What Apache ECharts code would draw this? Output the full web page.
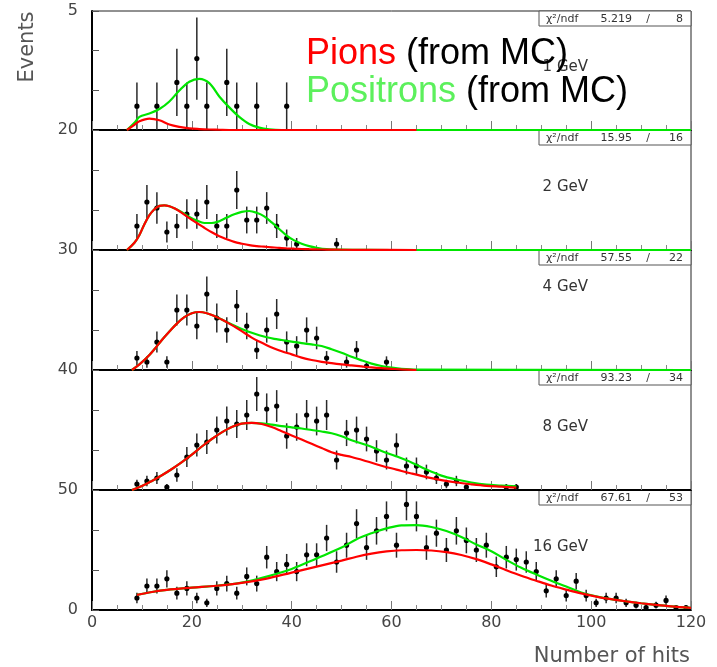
<!DOCTYPE html>
<html>
<head>
<meta charset="utf-8">
<title>Number of hits per beam energy</title>
<script src="https://cdn.jsdelivr.net/npm/echarts@6/dist/echarts.min.js"></script>
<style>
  html, body { margin: 0; padding: 0; background: #fff; }
  #chart { width: 717px; height: 667px; }
</style>
</head>
<body>
<div id="chart"></div>
<script>
// ---- Data: hit-count histograms (bin centres, entries) and fitted MC shapes ----

// 1 GeV
const hits1 = [9, 13, 17, 19, 21, 23, 27, 29, 33, 39];
const counts1 = [1, 1, 2, 1, 3, 1, 2, 1, 1, 1];
const curveX1 = [7, 8.5, 9.5, 11.5, 13.5, 15.5, 17.5, 19.5, 21.5, 23.5, 25.5, 27.5, 29.5, 31.5, 33.5, 35.5, 38, 65, 120];
const pion1 = [0, 0.22, 0.37, 0.48, 0.41, 0.23, 0.13, 0.07, 0.04, 0.02, 0.01, 0, 0, 0, 0, 0, 0, 0, null];
const positron1 = [0, 0.3, 0.55, 0.69, 0.88, 1.2, 1.66, 2.03, 2.15, 1.97, 1.41, 0.95, 0.55, 0.25, 0.1, 0.03, 0, 0, 0];

// 2 GeV
const hits2 = [9, 11, 13, 15, 17, 19, 21, 23, 25, 27, 29, 31, 33, 35, 37, 39, 41, 49];
const counts2 = [4, 8, 7, 3, 4, 6, 6, 8, 4, 4, 10, 5, 5, 7, 4, 2, 1, 1];
const curveX2 = [7, 8.5, 9.5, 10.5, 11.5, 12.5, 13.5, 14.5, 15.5, 16.5, 18, 19.5, 21, 22.5, 24, 25.5, 27, 28.5, 30, 31.5, 33, 34.5, 36, 37.5, 39, 40.5, 42, 43.5, 45, 47, 50, 55, 65, 120];
const pion2 = [0, 1.2, 2.5, 4.3, 5.8, 6.8, 7.35, 7.45, 7.3, 6.95, 6.2, 5.3, 4.5, 3.7, 2.95, 2.3, 1.8, 1.35, 1.05, 0.8, 0.65, 0.55, 0.45, 0.35, 0.28, 0.22, 0.17, 0.13, 0.1, 0.07, 0.04, 0.02, 0, null];
const positron2 = [0, 1.2, 2.5, 4.3, 5.8, 6.8, 7.35, 7.45, 7.3, 6.95, 6.3, 5.5, 4.9, 4.5, 4.5, 4.8, 5.4, 5.95, 6.35, 6.5, 6.2, 5.6, 4.6, 3.5, 2.4, 1.6, 1.05, 0.65, 0.38, 0.15, 0.05, 0.01, 0, 0];

// 4 GeV
const hits3 = [9, 11, 13, 15, 17, 19, 21, 23, 25, 27, 29, 31, 33, 35, 37, 39, 41, 43, 45, 47, 51, 53, 55, 59];
const counts3 = [3, 2, 7, 2, 15, 15, 11, 19, 13, 10, 16, 11, 5, 10, 14, 7, 6, 10, 8, 3, 2, 5, 1, 2];
const curveX3 = [8, 9.5, 11, 12.5, 14, 15.5, 17, 18.5, 20, 21.5, 23, 24.5, 26, 27.5, 29, 30.5, 32, 33.5, 35, 36.5, 38, 40, 42, 44, 46, 48, 50, 52, 54, 56, 58, 60, 62, 65, 120];
const pion3 = [0, 1.4, 3.1, 5.2, 7.5, 9.6, 11.6, 13.2, 14.2, 14.5, 14.2, 13.5, 12.6, 11.6, 10.5, 9.3, 8.1, 7.1, 6.2, 5.4, 4.7, 3.9, 3.1, 2.5, 2.05, 1.7, 1.4, 1.15, 0.9, 0.65, 0.45, 0.3, 0.15, 0, null];
const positron3 = [0, 1.4, 3.1, 5.2, 7.5, 9.6, 11.6, 13.2, 14.2, 14.5, 14.2, 13.5, 12.6, 11.7, 10.8, 10.0, 9.3, 8.7, 8.2, 7.8, 7.5, 7.1, 6.7, 6.4, 6.0, 5.2, 4.3, 3.3, 2.4, 1.6, 1.0, 0.6, 0.3, 0.1, 0];

// 8 GeV
const hits4 = [9, 11, 13, 15, 17, 19, 21, 23, 25, 27, 29, 31, 33, 35, 37, 39, 41, 43, 45, 47, 49, 51, 53, 55, 57, 59, 61, 63, 65, 67, 69, 71, 73, 75, 83, 85];
const counts4 = [2, 3, 4, 1, 5, 11, 15, 16, 20, 23, 22, 25, 32, 27, 28, 18, 21, 25, 23, 25, 10, 19, 20, 17, 13, 10, 15, 8, 8, 6, 4, 2, 3, 1, 1, 1];
const curveX4 = [8, 10, 12, 14, 16, 18, 20, 22, 24, 26, 28, 30, 32, 34, 36, 38, 40, 42, 44, 46, 48, 50, 52, 55, 58, 61, 64, 67, 70, 73, 76, 79, 82, 85];
const pion4 = [0, 1.3, 3.0, 4.9, 7.0, 9.3, 11.8, 14.5, 17.0, 19.2, 21.0, 22.1, 22.4, 22.0, 21.0, 19.6, 18.2, 16.8, 15.4, 14.0, 12.6, 11.7, 11.0, 9.6, 8.1, 6.8, 5.5, 4.3, 3.3, 2.5, 1.9, 1.4, 1.1, 0.8];
const positron4 = [0, 1.3, 3.0, 4.9, 7.0, 9.3, 11.8, 14.5, 17.0, 19.2, 21.0, 22.1, 22.4, 22.2, 21.8, 21.3, 20.9, 20.5, 20.0, 19.5, 18.9, 17.9, 16.6, 15.0, 13.0, 11.2, 9.2, 6.8, 4.8, 3.5, 2.5, 1.8, 1.5, 1.2];

// 16 GeV
const hits5 = [9, 11, 13, 15, 17, 19, 21, 23, 25, 27, 29, 31, 33, 35, 37, 39, 41, 43, 45, 47, 49, 51, 53, 55, 57, 59, 61, 63, 65, 67, 69, 71, 73, 75, 77, 79, 81, 83, 85, 87, 89, 91, 93, 95, 97, 99, 101, 103, 105, 107, 109, 111, 113, 115, 117, 119];
const counts5 = [5, 10, 10, 13, 7, 9, 5, 3, 9, 11, 7, 14, 11, 22, 16, 19, 16, 23, 23, 30, 20, 27, 36, 26, 33, 39, 27, 44, 39, 26, 32, 25, 33, 29, 25, 27, 18, 22, 21, 20, 16, 8, 13, 6, 12, 6, 3, 5, 5, 3, 2, 1, 2, 4, 1, 1];
const curveX5 = [9, 12, 15, 20, 25, 30, 35, 40, 45, 50, 53, 56, 59, 62, 65, 68, 71, 74, 77, 80, 83, 86, 89, 92, 95, 98, 101, 104, 107, 110, 113, 116, 120];
const pion5 = [6.3, 7.5, 8.4, 9.3, 10.1, 11.3, 13.1, 15.6, 18.1, 20.6, 22.2, 23.5, 24.4, 24.9, 25.0, 24.8, 24.1, 22.9, 21.2, 19.0, 16.6, 14.3, 12.2, 10.2, 8.5, 6.9, 5.6, 4.5, 3.6, 2.8, 2.1, 1.5, 0.9];
const positron5 = [6.3, 7.5, 8.4, 9.3, 10.1, 11.4, 13.9, 17.1, 21.5, 26.0, 29.5, 32.0, 34.0, 35.3, 35.4, 34.6, 32.9, 30.4, 27.3, 24.5, 20.9, 17.6, 14.8, 12.2, 9.8, 7.3, 5.7, 4.5, 3.6, 2.8, 2.1, 1.5, 0.9];

// Panel metadata
const energies = ['1 GeV', '2 GeV', '4 GeV', '8 GeV', '16 GeV'];
const yMaxima = [5, 20, 30, 40, 50];
const chi2Values = ['5.219', '15.95', '57.55', '93.23', '67.61'];
const ndfValues = ['8', '16', '22', '34', '53'];
const xTicks = [0, 20, 40, 60, 80, 100, 120];

// ---- Layout ----
const PLOT_LEFT = 92;
const PLOT_WIDTH = 599;
const PANEL_TOPS = [11, 130, 250, 370, 490];
const PANEL_HEIGHTS = [119, 120, 120, 120, 120];
const ENERGY_LABEL_DY = [56, 57, 37, 57, 57];
const TEXT_GRAY = '#444';
const PION_RED = '#ff0000';
const POSITRON_GREEN = '#00e600';

const hitsAll = [hits1, hits2, hits3, hits4, hits5];
const countsAll = [counts1, counts2, counts3, counts4, counts5];
const curveXAll = [curveX1, curveX2, curveX3, curveX4, curveX5];
const pionAll = [pion1, pion2, pion3, pion4, pion5];
const positronAll = [positron1, positron2, positron3, positron4, positron5];

const zip = (xs, ys) => xs.map((x, i) => [x, ys[i]]);
// Poisson uncertainty on a bin content
const binError = n => Math.sqrt(n);

const grids = [], xAxes = [], yAxes = [], series = [], graphics = [];
const nPanels = energies.length;

for (let k = 0; k < nPanels; k++) {
  const top = PANEL_TOPS[k];
  const height = PANEL_HEIGHTS[k];
  const ymax = yMaxima[k];
  const isBottom = k === nPanels - 1;

  grids.push({
    left: PLOT_LEFT, width: PLOT_WIDTH, top: top, height: height,
    show: true, borderColor: '#222', borderWidth: 1, backgroundColor: 'transparent',
    containLabel: false
  });

  xAxes.push({
    type: 'value', gridIndex: k, min: xTicks[0], max: xTicks[xTicks.length - 1], interval: 20,
    axisLine: { show: true, onZero: false, lineStyle: { color: '#000', width: 2 } },
    axisTick: { show: true, inside: true, length: 9, lineStyle: { color: '#777', width: 1 } },
    minorTick: { show: true, splitNumber: 4, length: 5, lineStyle: { color: '#888', width: 1 } },
    splitLine: { show: false },
    axisLabel: {
      show: isBottom, margin: 5, color: TEXT_GRAY,
      fontFamily: 'DejaVu Sans', fontSize: 16
    }
  });

  yAxes.push({
    type: 'value', gridIndex: k, min: 0, max: ymax, interval: ymax / 3,
    axisLine: { show: true, onZero: false, lineStyle: { color: '#000', width: 2 } },
    axisTick: { show: true, inside: true, length: 7, lineStyle: { color: '#555', width: 1 } },
    splitLine: { show: false },
    axisLabel: {
      show: true, margin: 14, color: TEXT_GRAY, fontFamily: 'DejaVu Sans', fontSize: 16,
      showMinLabel: isBottom, showMaxLabel: true,
      formatter: v => {
        if (Math.abs(v - ymax) < 1e-6) return String(ymax);
        if (isBottom && Math.abs(v) < 1e-9) return '0';
        return '';
      }
    }
  });

  // data points with vertical error bars
  series.push({
    type: 'custom', xAxisIndex: k, yAxisIndex: k, z: 3,
    data: zip(hitsAll[k], countsAll[k]),
    renderItem: (params, api) => {
      const x = api.value(0), n = api.value(1);
      const e = binError(n);
      const c = api.coord([x, n]);
      const lo = api.coord([x, Math.max(n - e, 0)]);
      const hi = api.coord([x, Math.min(n + e, ymax)]);
      return {
        type: 'group',
        children: [
          { type: 'line', shape: { x1: c[0], y1: lo[1], x2: c[0], y2: hi[1] },
            style: { stroke: '#2a2a2a', lineWidth: 1.5 } },
          { type: 'circle', shape: { cx: c[0], cy: c[1], r: 2.6 },
            style: { fill: '#000' } }
        ]
      };
    }
  });

  // pion + positron shape (green), pion-only shape (red) drawn on top
  series.push({
    type: 'line', xAxisIndex: k, yAxisIndex: k, z: 4,
    data: zip(curveXAll[k], positronAll[k]),
    smooth: 0.35, showSymbol: false, symbol: 'none',
    lineStyle: { color: POSITRON_GREEN, width: 2.2 }
  });
  series.push({
    type: 'line', xAxisIndex: k, yAxisIndex: k, z: 5,
    data: zip(curveXAll[k], pionAll[k]),
    smooth: 0.35, showSymbol: false, symbol: 'none',
    lineStyle: { color: PION_RED, width: 2.2 }
  });

  // fit-quality box in the top-right corner
  const boxX = 539, boxW = PLOT_LEFT + PLOT_WIDTH - boxX, boxH = 15;
  const chiFont = '11px "DejaVu Sans"';
  graphics.push({
    type: 'group', z: 10,
    children: [
      { type: 'rect', shape: { x: boxX, y: top, width: boxW, height: boxH },
        style: { fill: '#fff', stroke: '#555', lineWidth: 1 } },
      { type: 'text', x: boxX + 7, y: top + boxH / 2 + 0.5,
        style: { text: 'χ²/ndf', font: chiFont, fill: '#333', align: 'left', verticalAlign: 'middle' } },
      { type: 'text', x: 632, y: top + boxH / 2 + 0.5,
        style: { text: chi2Values[k], font: chiFont, fill: '#333', align: 'right', verticalAlign: 'middle' } },
      { type: 'text', x: 648, y: top + boxH / 2 + 0.5,
        style: { text: '/', font: chiFont, fill: '#333', align: 'center', verticalAlign: 'middle' } },
      { type: 'text', x: 683, y: top + boxH / 2 + 0.5,
        style: { text: ndfValues[k], font: chiFont, fill: '#333', align: 'right', verticalAlign: 'middle' } }
    ]
  });

  // beam energy
  graphics.push({
    type: 'text', z: 10, x: 588, y: top + ENERGY_LABEL_DY[k],
    style: { text: energies[k], font: '15px "DejaVu Sans"', fill: '#333', align: 'right', verticalAlign: 'middle' }
  });
}

// axis titles
graphics.push({
  type: 'text', z: 10, x: 28, y: 47, rotation: Math.PI / 2,
  style: { text: 'Events', font: '21px "DejaVu Sans"', fill: '#555', align: 'center', verticalAlign: 'middle' }
});
graphics.push({
  type: 'text', z: 10, x: 690, y: 657,
  style: { text: 'Number of hits', font: '21px "DejaVu Sans"', fill: '#555', align: 'right', verticalAlign: 'middle' }
});

// legend of the MC templates
const legendFont = '36px "Liberation Sans"';
graphics.push({
  type: 'text', z: 20, x: 306, y: 72,
  style: {
    text: '{r|Pions} {k|(from MC)}', font: legendFont, fill: '#000',
    align: 'left', verticalAlign: 'bottom',
    rich: {
      r: { fill: PION_RED, font: legendFont },
      k: { fill: '#000', font: legendFont }
    }
  }
});
graphics.push({
  type: 'text', z: 20, x: 306, y: 110,
  style: {
    text: '{g|Positrons} {k|(from MC)}', font: legendFont, fill: '#000',
    align: 'left', verticalAlign: 'bottom',
    rich: {
      g: { fill: '#5cf05c', font: legendFont },
      k: { fill: '#000', font: legendFont }
    }
  }
});

const chart = echarts.init(document.getElementById('chart'), null, { renderer: 'canvas' });
chart.setOption({
  animation: false,
  backgroundColor: '#fff',
  grid: grids,
  xAxis: xAxes,
  yAxis: yAxes,
  series: series,
  graphic: graphics
});
</script>
</body>
</html>
